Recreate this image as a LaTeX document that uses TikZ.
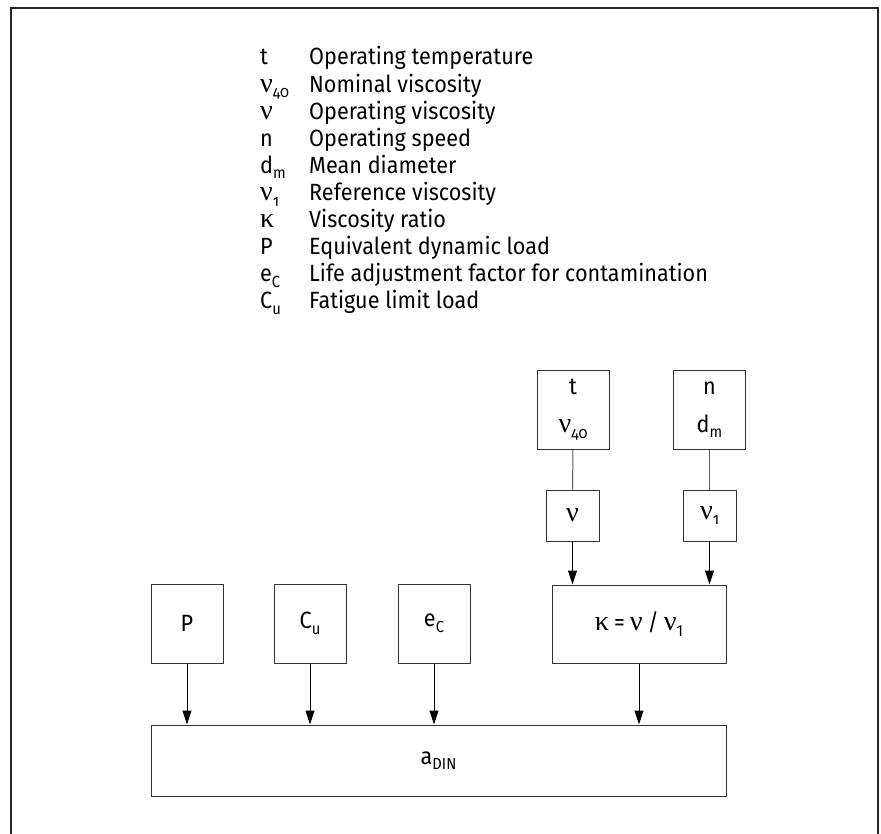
\documentclass[tikz,border=0pt]{standalone}
\usepackage{fontspec}
\setmainfont[FakeStretch=0.92]{Fira Sans}
\newfontfamily\grk[Scale=1.2]{Liberation Serif}
\newfontfamily\onum[Numbers=OldStyle,FakeStretch=0.92]{Fira Sans}
\usetikzlibrary{arrows.meta}
% small lowered index
\newcommand{\idx}[1]{\raisebox{-0.45ex}{\fontsize{16}{16}\selectfont #1}}
\newcommand{\gnu}{{\grk ν}}
\newcommand{\gkappa}{{\grk κ}}
\tikzset{
  frame/.style={line width=1.5pt, draw=black!85},
  box/.style={draw=black!80, line width=1pt, rectangle, inner sep=0pt,
              minimum width=72pt, minimum height=79pt, font=\fontsize{23.5}{38}\selectfont, align=center},
  smallbox/.style={box, minimum width=53pt, minimum height=51pt},
  legsym/.style={anchor=base west, inner sep=0pt, font=\fontsize{23.5}{25}\selectfont},
  legtxt/.style={anchor=base west, inner sep=0pt, font=\fontsize{23.5}{25}\selectfont},
  link/.style={draw=black!65, line width=1pt},
  arr/.style={draw=black, line width=1pt, -{Triangle[length=14pt,width=9pt]}}
}
\begin{document}
\begin{tikzpicture}[x=1pt,y=-1pt]
\useasboundingbox (0,0) rectangle (881,834);
% open frame (no bottom edge)
\draw[frame] (11,834) -- (11,8) -- (878,8) -- (878,834);

% legend
\foreach \s/\t [count=\i from 0] in {
  t/Operating temperature,
  \gnu\idx{\onum 40}/Nominal viscosity,
  \gnu/Operating viscosity,
  n/Operating speed,
  d\idx{m}/Mean diameter,
  \gnu\idx{\onum 1}/Reference viscosity,
  \gkappa/Viscosity ratio,
  P/Equivalent dynamic load,
  e\idx{C}/Life adjustment factor for contamination,
  C\idx{u}/Fatigue limit load}{
  \node[legsym] (sym\i) at (260,{65+27.1*\i}) {\s};
  \node[legtxt] (txt\i) at (309,{65+27.1*\i}) {\t};
}

% input boxes
\node[box] (tb) at (573,409.5) {t\\\gnu\idx{\onum 40}};
\node[box] (nb) at (709.5,409.5) {n\\d\idx{m}};
\node[smallbox] (nu) at (572.5,515.5) {\gnu};
\node[smallbox] (nu1) at (709.5,515.5) {\gnu\idx{\onum 1}};
\node[box, minimum width=174pt, minimum height=78pt] (kap) at (639,624)
  {\gkappa\hspace{5pt}=\hspace{5pt}\gnu\hspace{5pt}/\hspace{5pt}\gnu\idx{1}};
\node[box] (P) at (187,623.5) {P};
\node[box] (Cu) at (310,623.5) {C\idx{u}};
\node[box] (eC) at (434,623.5) {e\idx{C}};
\node[box, minimum width=575pt, minimum height=71pt] (adin) at (438.5,760.5) {a\idx{DIN}};

% connections
\draw[link] (tb.south) -- (nu.north);
\draw[link] (nb.south) -- (nu1.north);
\draw[arr] (nu.south) -- (nu.south |- kap.north);
\draw[arr] (nu1.south) -- (nu1.south |- kap.north);
\draw[arr] (P.south) -- (P.south |- adin.north);
\draw[arr] (Cu.south) -- (Cu.south |- adin.north);
\draw[arr] (eC.south) -- (eC.south |- adin.north);
\draw[arr] (kap.south) -- (kap.south |- adin.north);
\end{tikzpicture}
\end{document}
